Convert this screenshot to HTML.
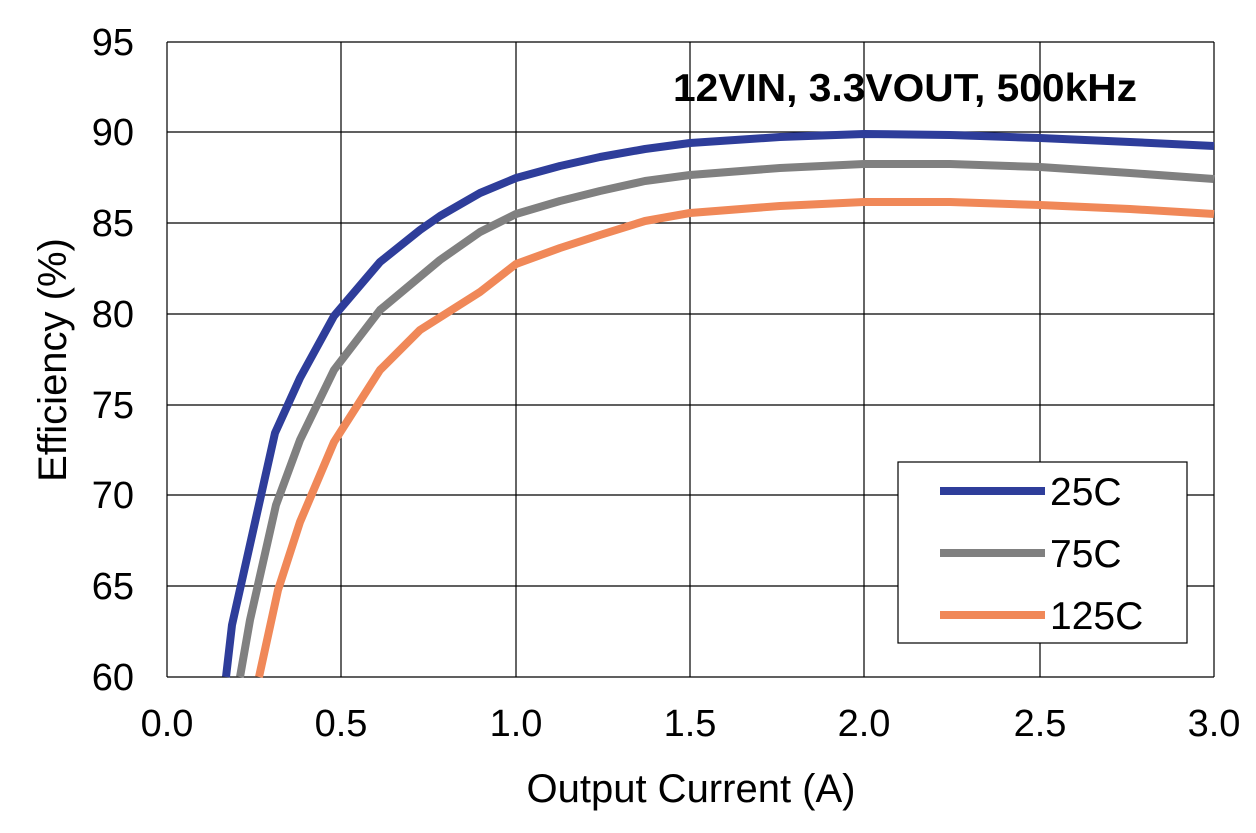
<!DOCTYPE html>
<html><head><style>
html,body{margin:0;padding:0;background:#fff;}
svg text{font-family:"Liberation Sans",Arial,sans-serif;}
</style></head><body>
<svg width="1256" height="828" viewBox="0 0 1256 828" xmlns="http://www.w3.org/2000/svg">
<rect width="1256" height="828" fill="#fff"/>
<g stroke="#000" stroke-width="1.2" fill="none">
<line x1="167" y1="42" x2="1214" y2="42"/>
<line x1="167" y1="132" x2="1214" y2="132"/>
<line x1="167" y1="223" x2="1214" y2="223"/>
<line x1="167" y1="314" x2="1214" y2="314"/>
<line x1="167" y1="405" x2="1214" y2="405"/>
<line x1="167" y1="495" x2="1214" y2="495"/>
<line x1="167" y1="586" x2="1214" y2="586"/>
<line x1="167" y1="677" x2="1214" y2="677"/>
<line x1="167" y1="42" x2="167" y2="677"/>
<line x1="341" y1="42" x2="341" y2="677"/>
<line x1="516" y1="42" x2="516" y2="677"/>
<line x1="690" y1="42" x2="690" y2="677"/>
<line x1="864" y1="42" x2="864" y2="677"/>
<line x1="1040" y1="42" x2="1040" y2="677"/>
<line x1="1214" y1="42" x2="1214" y2="677"/>
</g>
<g fill="none" stroke-width="8" stroke-linejoin="round">
<polyline stroke="#2e3d9a" points="226,677 232,625 275,433 300,378 334,316 380,262 420,230 440,216 480,193 516,178 560,166 600,157 645,149 690,143 780,137 864,134 950,135 1040,138 1130,142 1214,146"/>
<polyline stroke="#808080" points="240,677 250,620 276,505 300,440 334,370 380,310 440,260 480,232 516,214 560,201 600,191 645,181 690,175 780,168 864,164 950,164 1040,167 1130,173 1214,179"/>
<polyline stroke="#f08858" points="259,677 278,590 300,522 334,442 380,370 420,330 480,292 516,264 560,248 600,235 645,221 690,213 780,206 864,202 950,202 1040,205 1130,209 1214,214"/>
</g>
<rect x="898" y="462" width="289" height="181" fill="#fff" stroke="#000" stroke-width="1.2"/>
<g stroke-width="8">
<line x1="940" y1="491" x2="1045" y2="491" stroke="#2e3d9a"/>
<line x1="940" y1="553" x2="1045" y2="553" stroke="#808080"/>
<line x1="940" y1="615" x2="1045" y2="615" stroke="#f08858"/>
</g>
<g font-size="39" fill="#000">
<text x="1050" y="505">25C</text>
<text x="1050" y="567">75C</text>
<text x="1050" y="629">125C</text>
</g>
<text x="1137" y="101" font-size="39" font-weight="bold" text-anchor="end" textLength="464" lengthAdjust="spacingAndGlyphs">12VIN, 3.3VOUT, 500kHz</text>
<g font-size="38" text-anchor="end">
<text x="134" y="55">95</text>
<text x="134" y="145">90</text>
<text x="134" y="236">85</text>
<text x="134" y="327">80</text>
<text x="134" y="418">75</text>
<text x="134" y="508">70</text>
<text x="134" y="599">65</text>
<text x="134" y="690">60</text>
</g>
<g font-size="38" text-anchor="middle">
<text x="167" y="736">0.0</text>
<text x="341" y="736">0.5</text>
<text x="516" y="736">1.0</text>
<text x="690" y="736">1.5</text>
<text x="864" y="736">2.0</text>
<text x="1040" y="736">2.5</text>
<text x="1214" y="736">3.0</text>
</g>
<text x="691" y="802" font-size="40" text-anchor="middle">Output Current (A)</text>
<text transform="translate(66,360) rotate(-90)" font-size="40" text-anchor="middle">Efficiency (%)</text>
</svg>
</body></html>
